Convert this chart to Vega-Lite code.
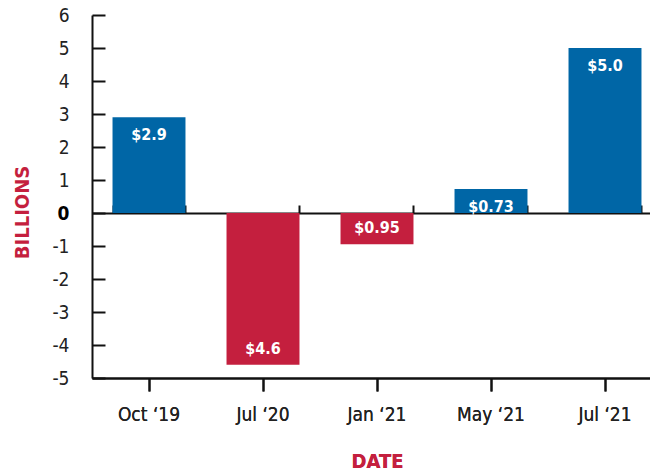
{
  "$schema": "https://vega.github.io/schema/vega-lite/v6.json",
  "autosize": {"type": "none"},
  "width": 558,
  "height": 363,
  "padding": {"left": 92, "top": 15, "right": 0, "bottom": 98},
  "background": "white",
  "config": {
    "view": {"stroke": null},
    "font": "DejaVu Sans Condensed, Liberation Sans Narrow, Roboto, sans-serif",
    "axis": {
      "domainColor": "#111",
      "domainWidth": 2,
      "tickColor": "#111",
      "tickWidth": 2,
      "labelColor": "#222",
      "labelFont": "DejaVu Sans Condensed, Liberation Sans Narrow, Roboto, sans-serif",
      "labelFontSize": 19,
      "titleFont": "DejaVu Sans Condensed, Liberation Sans Narrow, Roboto, sans-serif",
      "titleFontSize": 20,
      "titleFontWeight": "bold",
      "titleColor": "#c41f3e",
      "grid": false
    }
  },
  "data": {
    "values": [
      {"date": "Oct ‘19", "value": 2.9, "label": "$2.9"},
      {"date": "Jul ‘20", "value": -4.6, "label": "$4.6"},
      {"date": "Jan ‘21", "value": -0.95, "label": "$0.95"},
      {"date": "May ‘21", "value": 0.73, "label": "$0.73"},
      {"date": "Jul ‘21", "value": 5.0, "label": "$5.0"}
    ]
  },
  "encoding": {
    "x": {
      "field": "date",
      "type": "nominal",
      "sort": null,
      "scale": {"type": "band", "range": [0, 570], "paddingInner": 0.36, "paddingOuter": 0.18},
      "axis": {
        "orient": "bottom",
        "title": "DATE",
        "labelAngle": 0,
        "tickSize": 13,
        "labelPadding": 14,
        "titlePadding": 27
      }
    },
    "y": {
      "field": "value",
      "type": "quantitative",
      "scale": {"domain": [-5, 6], "nice": false, "zero": false},
      "axis": {
        "title": "BILLIONS",
        "values": [-5, -4, -3, -2, -1, 0, 1, 2, 3, 4, 5, 6],
        "labelExpr": "datum.value + ''",
        "labelFontWeight": {"condition": {"test": "datum.value === 0", "value": "bold"}, "value": "normal"},
        "labelColor": {"condition": {"test": "datum.value === 0", "value": "#000"}, "value": "#222"},
        "tickSize": -13,
        "labelPadding": 36,
        "titleY": 197,
        "titleX": -60
      }
    }
  },
  "layer": [
    {
      "mark": {"type": "bar"},
      "encoding": {
        "color": {"condition": {"test": "datum.value > 0", "value": "#0066a6"}, "value": "#c41f3e"}
      }
    },
    {
      "transform": [{"filter": "datum.value > 0"}],
      "mark": {"type": "text", "color": "white", "fontWeight": "bold", "fontSize": 16, "baseline": "middle", "dy": 18},
      "encoding": {"text": {"field": "label"}}
    },
    {
      "transform": [{"filter": "datum.value < 0"}],
      "mark": {"type": "text", "color": "white", "fontWeight": "bold", "fontSize": 16, "baseline": "middle", "dy": -16},
      "encoding": {
        "text": {"field": "label"},
        "x": {
          "field": "date",
          "type": "nominal",
          "sort": null,
          "axis": {
            "orient": "top",
            "title": null,
            "labels": false,
            "tickBand": "extent",
            "tickSize": 8,
            "offset": -198
          }
        }
      }
    }
  ]
}
